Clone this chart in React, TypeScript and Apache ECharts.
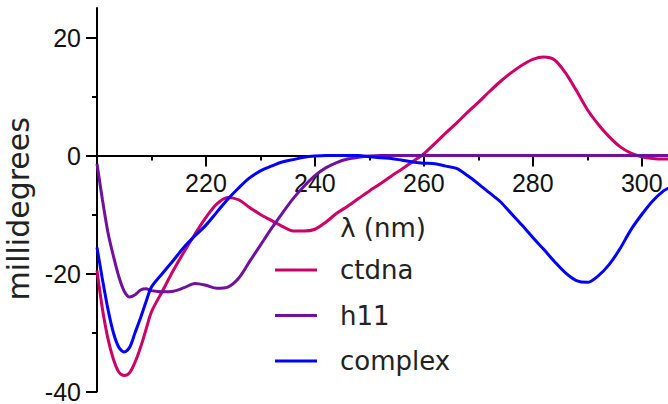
import React, { useEffect, useRef } from "react";
import * as echarts from "echarts";

const wavelengths = [
  200, 201, 202, 203, 204, 205, 206, 207, 208, 209, 210, 212, 214, 216, 218, 220,
  222, 224, 226, 228, 230, 232, 234, 236, 238, 240, 242, 244, 246, 248, 250, 252,
  254, 256, 258, 260, 262, 264, 266, 268, 270, 272, 274, 276, 278, 280, 282, 284,
  286, 288, 290, 292, 294, 296, 298, 300, 302, 304, 305,
];

const ctdna = [
  -19.5, -26, -31, -34.5, -36.7, -37.3, -36.8, -35, -32.5, -29.5, -26.5, -23, -19.5, -16.3, -13.3, -10.5,
  -8.2, -7.1, -7.5, -8.8, -10, -11, -12, -12.8, -12.8, -12.5, -11.3, -9.8, -8.6, -7.3, -6, -4.8,
  -3.5, -2.3, -1, 0.3, 2, 3.8, 5.5, 7.3, 9, 10.8, 12.5, 14, 15.3, 16.3, 16.7, 16.2,
  14, 11, 7.8, 5.3, 3.2, 1.5, 0.4, -0.2, -0.5, -0.6, -0.6,
];

const h11 = [
  -1.4, -7.5, -13, -17, -20.5, -23, -24, -23.6, -22.8, -22.6, -22.9, -23.1, -23, -22.4, -21.7, -22,
  -22.5, -22.3, -20.8, -18, -15.2, -12.4, -9.8, -7.3, -5.2, -3.4, -2.1, -1.2, -0.6, -0.3, -0.1, 0,
  0, 0, 0, 0, 0, 0, 0, 0, 0, 0, 0, 0, 0, 0, 0, 0,
  0, 0, 0, 0, 0, 0, 0, 0, 0, 0, 0,
];

const complex = [
  -15.6, -21, -26, -30, -32.5, -33.3, -32.5, -30, -27.5, -24.8, -22.3, -20, -17.8, -15.5, -13.6, -11.8,
  -9.6, -7.4, -5.5, -3.8, -2.6, -1.8, -1.1, -0.7, -0.3, -0.1, 0, 0, 0, 0, -0.2, -0.4,
  -0.5, -0.8, -1.1, -1.3, -1.4, -1.8, -2.2, -3.4, -4.8, -6.3, -7.8, -9.8, -11.8, -13.9, -15.9, -18,
  -19.9, -21.2, -21.5, -20.4, -18.5, -15.8, -12.6, -10, -7.7, -6, -5.5,
];

const seriesNames = ["ctdna", "h11", "complex"];
const seriesColors = ["#cc0066", "#7010a0", "#0000ff"];
const xMajorTicks = [220, 240, 260, 280, 300];
const xMinorTicks = [210, 230, 250, 270, 290];
const yMajorTicks = [-40, -20, 0, 20];
const yMinorTicks = [-30, -10, 10];
const xRange = [200, 305];
const yRange = [-40, 25];

const tickFont = "'Liberation Sans', Arial, sans-serif";
const nameFont = "'DejaVu Sans', sans-serif";

export default function App() {
  const ref = useRef<HTMLDivElement>(null);

  useEffect(() => {
    if (!ref.current) return;
    const chart = echarts.init(ref.current, undefined, { renderer: "svg" });
    const allData = [ctdna, h11, complex];
    const pairs = (vals: number[]) => wavelengths.map((w, i) => [w, vals[i]]);

    const plotTop = 8;
    const plotBottomPx = 404 - 12.5;
    const zeroPx = plotTop + ((yRange[1] - 0) / (yRange[1] - yRange[0])) * (plotBottomPx - plotTop);

    const tickLine = { color: "#000", width: 2 };

    chart.setOption({
      animation: false,
      backgroundColor: "#ffffff",
      grid: [
        { left: 97, right: -1, top: plotTop, bottom: 12.5, containLabel: false, outerBoundsMode: "none" },
        { left: 97, right: -1, top: plotTop, height: zeroPx - plotTop, containLabel: false, outerBoundsMode: "none" },
      ],
      legend: {
        data: seriesNames,
        orient: "vertical",
        left: 275,
        top: 255,
        icon: "rect",
        itemWidth: 42,
        itemHeight: 3,
        itemGap: 15.5,
        padding: 0,
        textStyle: {
          fontFamily: nameFont,
          fontSize: 26,
          color: "#222",
          lineHeight: 30,
          padding: [0, 0, 0, 18],
        },
      },
      xAxis: [
        {
          type: "value",
          gridIndex: 0,
          min: xRange[0],
          max: xRange[1],
          show: false,
          splitLine: { show: false },
        },
        {
          type: "value",
          gridIndex: 1,
          min: xRange[0],
          max: xRange[1],
          position: "bottom",
          axisLine: { show: true, onZero: false, lineStyle: tickLine },
          axisTick: { show: true, customValues: xMajorTicks, length: 11, inside: false, lineStyle: tickLine },
          axisLabel: { show: true, customValues: xMajorTicks, fontFamily: tickFont, fontSize: 25, color: "#111", margin: 15 },
          splitLine: { show: false },
          name: "λ (nm)",
          nameLocation: "middle",
          nameGap: 59,
          nameTextStyle: { fontFamily: nameFont, fontSize: 26, color: "#222" },
        },
        {
          type: "value",
          gridIndex: 1,
          min: xRange[0],
          max: xRange[1],
          position: "bottom",
          axisLine: { show: false, onZero: false },
          axisTick: { show: true, customValues: xMinorTicks, length: 5, inside: false, lineStyle: tickLine },
          axisLabel: { show: false },
          splitLine: { show: false },
        },
      ],
      yAxis: [
        {
          type: "value",
          gridIndex: 0,
          min: yRange[0],
          max: yRange[1],
          position: "left",
          axisLine: { show: true, onZero: false, lineStyle: tickLine },
          axisTick: { show: true, customValues: yMajorTicks, length: 11, inside: false, lineStyle: tickLine },
          axisLabel: { show: true, customValues: yMajorTicks, fontFamily: tickFont, fontSize: 25, color: "#111", margin: 16 },
          splitLine: { show: false },
          name: "millidegrees",
          nameLocation: "middle",
          nameGap: 64,
          nameTextStyle: { fontFamily: nameFont, fontSize: 30, color: "#222", padding: [0, 18, 0, 0] },
        },
        {
          type: "value",
          gridIndex: 0,
          min: yRange[0],
          max: yRange[1],
          position: "left",
          axisLine: { show: false, onZero: false },
          axisTick: { show: true, customValues: yMinorTicks, length: 5, inside: false, lineStyle: tickLine },
          axisLabel: { show: false },
          splitLine: { show: false },
        },
        {
          type: "value",
          gridIndex: 1,
          min: 0,
          max: 1,
          show: false,
          splitLine: { show: false },
        },
      ],
      series: seriesNames.map((name, i) => ({
        name,
        type: "line",
        xAxisIndex: 0,
        yAxisIndex: 0,
        data: pairs(allData[i]),
        symbol: "none",
        smooth: 0.3,
        z: 3,
        color: seriesColors[i],
        lineStyle: { color: seriesColors[i], width: 3 },
      })),
    });

    return () => chart.dispose();
  }, []);

  return (
    <div
      ref={ref}
      style={{ position: "fixed", left: 0, top: 0, width: 668, height: 404, background: "#fff" }}
    />
  );
}
